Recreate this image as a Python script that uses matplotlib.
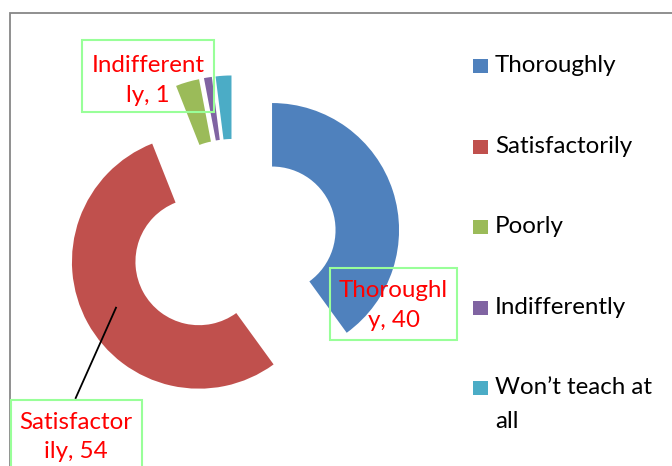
import matplotlib
matplotlib.use("Agg")
import matplotlib.pyplot as plt
import matplotlib.patches as mpatches

# ---- data ----
categories = ["Thoroughly", "Satisfactorily", "Poorly", "Indifferently", "Won\u2019t teach at all"]
values = [40, 54, 3, 1, 2]
colors = ["#4F81BD", "#C0504D", "#9BBB59", "#8064A2", "#4BACC6"]
labeled = ["Thoroughly", "Satisfactorily", "Indifferently"]

# ---- layout (pixel units, y measured from top) ----
W, H = 672, 466
FONT = "Lato"
fig = plt.figure(figsize=(W / 100, H / 100), dpi=100)
ax = fig.add_axes([0, 0, 1, 1])


def Y(y):
    return H - y


# font size fit so that "Thoroughly" is ~122 px wide
renderer = fig.canvas.get_renderer()
tmp = ax.text(0, 0, "Thoroughly", fontsize=10, family=FONT)
wpx = tmp.get_window_extent(renderer).width
tmp.remove()
FS = 10 * 122 / wpx

R = 127
cx, cy = 234, 242.4
ax.pie(values, colors=colors, radius=R, center=(cx, Y(cy)), startangle=90,
       counterclock=False, explode=[40] * len(values),
       wedgeprops=dict(width=R * 0.5, linewidth=0))
ax.set_xlim(0, W)
ax.set_ylim(0, H)
ax.set_aspect("equal")
ax.axis("off")

# chart-area border (partially visible)
ax.plot([10, 10, W + 5], [Y(H + 5), Y(12.5), Y(12.5)], color="#878787", lw=1.3,
        solid_joinstyle="miter", clip_on=False)

# data labels
label_style = {
    "Thoroughly": dict(box=(330, 268, 457, 340), cx=393.5, base=[297.3, 326.7], brk=9),
    "Satisfactorily": dict(box=(11, 400, 142, 475), cx=76, base=[429.3, 458.3], brk=11),
    "Indifferently": dict(box=(82, 40, 214, 112), cx=148, base=[71.7, 101.7], brk=11),
}
for cat, val in zip(categories, values):
    if cat not in labeled:
        continue
    st = label_style[cat]
    txt = f"{cat}, {val}"
    lines = [txt[:st["brk"]], txt[st["brk"]:]]
    x0, y0, x1, y1 = st["box"]
    ax.add_patch(mpatches.Rectangle((x0, Y(y1)), x1 - x0, y1 - y0, fill=False,
                                    edgecolor="#99FF99", lw=1.5, zorder=5))
    for ln, b in zip(lines, st["base"]):
        ax.text(st["cx"], Y(b), ln, ha="center", va="baseline", color="#FF0000",
                fontsize=FS, family=FONT, zorder=6)

# leader line for Satisfactorily
ax.plot([116, 75.7], [Y(307.7), Y(398)], color="black", lw=1.3, zorder=4)

# legend
legend_lines = {"Won\u2019t teach at all": ["Won\u2019t teach at", "all"]}
for i, (cat, col) in enumerate(zip(categories, colors)):
    yc = 66 + i * 80.5
    ax.add_patch(mpatches.Rectangle((473.3, Y(yc + 7)), 14.4, 14, facecolor=col,
                                    edgecolor="none"))
    for j, ln in enumerate(legend_lines.get(cat, [cat])):
        ax.text(495, Y(72.3 + i * 80.5 + j * 33.4), ln, ha="left", va="baseline",
                color="black", fontsize=FS, family=FONT)

fig.savefig("out.png", dpi=100)
